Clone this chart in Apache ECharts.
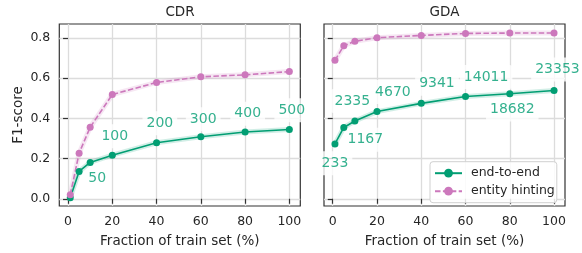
<!DOCTYPE html>
<html>
<head>
<meta charset="utf-8">
<script src="https://cdn.jsdelivr.net/npm/echarts@6/dist/echarts.min.js"></script>
<style>
  html, body { margin: 0; padding: 0; background: #fff; }
  #chart { width: 582px; height: 253px; }
</style>
</head>
<body>
<div id="chart"></div>
<script>
// fraction of train set (%)
const fractions = [1, 5, 10, 20, 40, 60, 80, 100];

// CDR
const cdrEndToEnd = [0.005, 0.136, 0.181, 0.217, 0.279, 0.309, 0.332, 0.345];
const cdrHinting = [0.020, 0.227, 0.356, 0.519, 0.579, 0.607, 0.617, 0.633];
const cdrSizes = ['', '', '50', '100', '200', '300', '400', '500'];

// GDA
const gdaEndToEnd = [0.273, 0.355, 0.387, 0.434, 0.475, 0.509, 0.523, 0.539];
const gdaHinting = [0.689, 0.762, 0.784, 0.802, 0.813, 0.823, 0.825, 0.825];
const gdaSizes = ['233', '1167', '2335', '4670', '9341', '14011', '18682', '23353'];

const xTicks = [0, 20, 40, 60, 80, 100];
const yTicks = [0, 0.2, 0.4, 0.6, 0.8];

// label offsets in px (layout only)
const cdrLabelOffset = [[0, 0], [0, 0], [7, 15.5], [2.5, -19], [3.3, -19.5], [2.4, -17.5], [2.6, -18.3], [2.4, -19.3]];
const gdaLabelOffset = [[0, 19.3], [21.5, 12.4], [-2.5, -20], [15.9, -19.7], [15.7, -19.7], [20.6, -19.4], [2.5, 15.7], [3.4, -21]];

const GREEN = '#029e73';
const PINK = '#cc78bc';
const FONT = 'DejaVu Sans';
const TXT = '#262626';

const pairs = ys => fractions.map((x, i) => [x, ys[i]]);

function xAxis(idx) {
  return {
    gridIndex: idx, type: 'value', min: -3.95, max: 104.95,
    name: 'Fraction of train set (%)', nameLocation: 'middle', nameGap: 28,
    nameTextStyle: { fontFamily: FONT, fontSize: 13.5, color: TXT },
    axisLine: { show: false },
    axisTick: { show: true, length: 5, lineStyle: { color: '#333', width: 1.2 }, customValues: xTicks },
    axisLabel: { fontFamily: FONT, fontSize: 12.5, color: TXT, margin: 9, customValues: xTicks },
    splitLine: { show: true, lineStyle: { color: '#dcdcdc', width: 1.3 } }
  };
}

function yAxis(idx) {
  return {
    gridIndex: idx, type: 'value', min: -0.036, max: 0.87,
    name: idx === 0 ? 'F1-score' : '', nameLocation: 'middle', nameGap: 34,
    nameTextStyle: { fontFamily: FONT, fontSize: 13.5, color: TXT },
    axisLine: { show: false },
    axisTick: { show: true, length: 5, lineStyle: { color: '#333', width: 1.2 }, customValues: yTicks },
    axisLabel: {
      show: idx === 0, fontFamily: FONT, fontSize: 12.5, color: TXT, margin: 9,
      customValues: yTicks, formatter: v => v.toFixed(1)
    },
    splitLine: { show: true, lineStyle: { color: '#dcdcdc', width: 1.3 } }
  };
}

function bandSeries(idx, ys, color) {
  return {
    name: 'band', type: 'line', xAxisIndex: idx, yAxisIndex: idx, data: pairs(ys),
    symbol: 'none', silent: true, z: 2,
    lineStyle: { color: color, width: 5, opacity: 0.18 }
  };
}

function mainSeries(idx, name, ys, color, dashed) {
  return {
    name: name, type: 'line', xAxisIndex: idx, yAxisIndex: idx, data: pairs(ys),
    symbol: 'circle', symbolSize: 7, z: 4,
    itemStyle: { color: color },
    lineStyle: { color: color, width: 1.6, type: dashed ? [5.5, 2.4] : 'solid' }
  };
}

function sizeLabels(idx, ys, sizes, offsets) {
  return {
    name: 'sizes', type: 'scatter', xAxisIndex: idx, yAxisIndex: idx, z: 1, silent: true,
    symbolSize: 0,
    data: fractions.map((x, i) => ({
      value: [x, ys[i]],
      label: {
        show: sizes[i] !== '', formatter: sizes[i], position: 'inside', offset: offsets[i],
        color: GREEN, fontFamily: FONT, fontSize: 14,
        backgroundColor: '#fff', padding: [5, 4], borderRadius: 3
      }
    }))
  };
}

const chart = echarts.init(document.getElementById('chart'), null, { renderer: 'canvas' });
chart.setOption({
  animation: false,
  backgroundColor: '#fff',
  title: [
    { text: 'CDR', left: 180, top: 5, textAlign: 'center', padding: 0,
      textStyle: { fontFamily: FONT, fontSize: 13.5, fontWeight: 'normal', color: TXT } },
    { text: 'GDA', left: 444.5, top: 5, textAlign: 'center', padding: 0,
      textStyle: { fontFamily: FONT, fontSize: 13.5, fontWeight: 'normal', color: TXT } }
  ],
  grid: [
    { left: 59.3, top: 24, width: 241, height: 185, show: true, borderColor: '#333', borderWidth: 1.2, backgroundColor: 'transparent' },
    { left: 324, top: 24, width: 241, height: 185, show: true, borderColor: '#333', borderWidth: 1.2, backgroundColor: 'transparent' }
  ],
  legend: {
    data: ['end-to-end', 'entity hinting'],
    orient: 'vertical', left: 430, top: 161.7,
    padding: [5, 2, 5, 4], itemGap: 5, itemWidth: 27, itemHeight: 11,
    backgroundColor: 'rgba(255,255,255,0.85)', borderColor: '#d0d0d0', borderWidth: 1, borderRadius: 3,
    textStyle: { fontFamily: FONT, fontSize: 12.5, color: TXT, padding: [0, 0, 0, 4] }
  },
  xAxis: [xAxis(0), xAxis(1)],
  yAxis: [yAxis(0), yAxis(1)],
  series: [
    bandSeries(0, cdrEndToEnd, GREEN),
    bandSeries(0, cdrHinting, PINK),
    bandSeries(1, gdaEndToEnd, GREEN),
    bandSeries(1, gdaHinting, PINK),
    sizeLabels(0, cdrEndToEnd, cdrSizes, cdrLabelOffset),
    sizeLabels(1, gdaEndToEnd, gdaSizes, gdaLabelOffset),
    mainSeries(0, 'end-to-end', cdrEndToEnd, GREEN, false),
    mainSeries(0, 'entity hinting', cdrHinting, PINK, true),
    mainSeries(1, 'end-to-end', gdaEndToEnd, GREEN, false),
    mainSeries(1, 'entity hinting', gdaHinting, PINK, true)
  ]
});
</script>
</body>
</html>
